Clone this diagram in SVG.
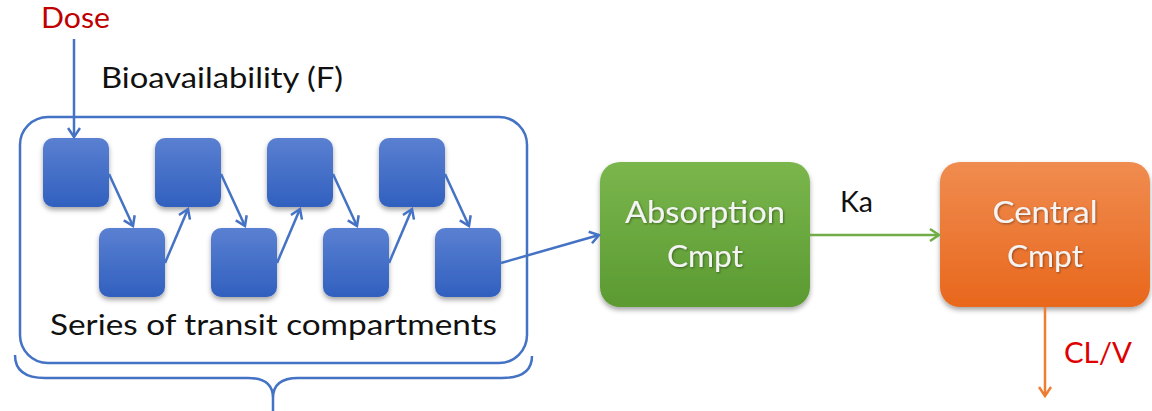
<svg xmlns="http://www.w3.org/2000/svg" width="1152" height="411" viewBox="0 0 1152 411">
  <style>
    .lbl { font-family: Lato, "Open Sans", "Liberation Sans", sans-serif; font-size: 28px; }
    .dark { fill: #111111; }
    .red { fill: #c00000; }
    .inbox { fill: #f4f4f4; text-anchor: middle; font-size: 30px; }
    .blue { stroke: #4472c4; stroke-width: 2.5; fill: none; }
  </style>
  <defs>
    <linearGradient id="gBlue" x1="0" y1="0" x2="0" y2="1">
      <stop offset="0" stop-color="#5a80d1"/>
      <stop offset="1" stop-color="#3160bf"/>
    </linearGradient>
    <linearGradient id="gGreen" x1="0" y1="0" x2="0" y2="1">
      <stop offset="0" stop-color="#7ab64c"/>
      <stop offset="1" stop-color="#5b9a32"/>
    </linearGradient>
    <linearGradient id="gOrange" x1="0" y1="0" x2="0" y2="1">
      <stop offset="0" stop-color="#f08c50"/>
      <stop offset="1" stop-color="#e8671c"/>
    </linearGradient>
    <filter id="shadow" x="-20%" y="-20%" width="140%" height="150%">
      <feDropShadow dx="0" dy="3" stdDeviation="2.5" flood-color="#000" flood-opacity="0.35"/>
    </filter>
    <filter id="txtShadow" x="-10%" y="-20%" width="120%" height="150%">
      <feDropShadow dx="1" dy="1" stdDeviation="0.8" flood-color="#000" flood-opacity="0.4"/>
    </filter>
    <marker id="arrBlue" markerWidth="14" markerHeight="14" refX="11" refY="7" orient="auto" markerUnits="userSpaceOnUse">
      <polyline points="2,1 11,7 2,13" fill="none" stroke="#4472c4" stroke-width="2.5"/>
    </marker>
    <marker id="arrGreen" markerWidth="14" markerHeight="14" refX="11" refY="7" orient="auto" markerUnits="userSpaceOnUse">
      <polyline points="2,1 11,7 2,13" fill="none" stroke="#70ad47" stroke-width="2.5"/>
    </marker>
    <marker id="arrOrange" markerWidth="14" markerHeight="14" refX="11" refY="7" orient="auto" markerUnits="userSpaceOnUse">
      <polyline points="2,1 11,7 2,13" fill="none" stroke="#ed7d31" stroke-width="2.5"/>
    </marker>
  </defs>

  <rect width="1152" height="411" fill="#ffffff"/>

  <!-- free labels -->
  <text id="dose" class="lbl red" x="41" y="28" textLength="69" lengthAdjust="spacingAndGlyphs">Dose</text>
  <text id="bioavailability" class="lbl dark" x="101" y="88" textLength="242" lengthAdjust="spacingAndGlyphs">Bioavailability (F)</text>

  <!-- transit compartment container -->
  <g id="transit-group">
    <rect x="20" y="117" width="507" height="246" rx="28" ry="28" class="blue" stroke-width="3"/>
    <text class="lbl dark" x="50" y="335" textLength="447" lengthAdjust="spacingAndGlyphs">Series of transit compartments</text>
  </g>

  <!-- brace under the container -->
  <path id="brace" class="blue" d="M15,355 Q15,378 45,378 L248,378 Q273,378 273,398 L273,411 M273,398 Q273,378 298,378 L502,378 Q532,378 532,356"/>

  <!-- transit compartments: top row -->
  <g id="t1"><rect x="43" y="138" width="66" height="69" rx="10" fill="url(#gBlue)" filter="url(#shadow)"/></g>
  <g id="t3"><rect x="155" y="138" width="66" height="69" rx="10" fill="url(#gBlue)" filter="url(#shadow)"/></g>
  <g id="t5"><rect x="267" y="138" width="66" height="69" rx="10" fill="url(#gBlue)" filter="url(#shadow)"/></g>
  <g id="t7"><rect x="379" y="138" width="66" height="69" rx="10" fill="url(#gBlue)" filter="url(#shadow)"/></g>
  <!-- transit compartments: bottom row -->
  <g id="t2"><rect x="99" y="228" width="66" height="69" rx="10" fill="url(#gBlue)" filter="url(#shadow)"/></g>
  <g id="t4"><rect x="211" y="228" width="66" height="69" rx="10" fill="url(#gBlue)" filter="url(#shadow)"/></g>
  <g id="t6"><rect x="323" y="228" width="66" height="69" rx="10" fill="url(#gBlue)" filter="url(#shadow)"/></g>
  <g id="t8"><rect x="435" y="228" width="66" height="69" rx="10" fill="url(#gBlue)" filter="url(#shadow)"/></g>

  <!-- absorption compartment -->
  <g id="absorption">
    <rect x="600" y="162" width="210" height="145" rx="20" fill="url(#gGreen)" filter="url(#shadow)"/>
    <g filter="url(#txtShadow)">
      <text class="lbl inbox" x="705" y="223" textLength="160" lengthAdjust="spacingAndGlyphs">Absorption</text>
      <text class="lbl inbox" x="705" y="267" textLength="76" lengthAdjust="spacingAndGlyphs">Cmpt</text>
    </g>
  </g>

  <!-- central compartment -->
  <g id="central">
    <rect x="940" y="162" width="210" height="145" rx="20" fill="url(#gOrange)" filter="url(#shadow)"/>
    <g filter="url(#txtShadow)">
      <text class="lbl inbox" x="1045" y="223" textLength="105" lengthAdjust="spacingAndGlyphs">Central</text>
      <text class="lbl inbox" x="1045" y="267" textLength="76" lengthAdjust="spacingAndGlyphs">Cmpt</text>
    </g>
  </g>

  <!-- connectors -->
  <g id="connectors">
    <line x1="74" y1="39" x2="74" y2="137" class="blue" marker-end="url(#arrBlue)"/>
    <line x1="109" y1="174" x2="133" y2="226" class="blue" marker-end="url(#arrBlue)"/>
    <line x1="165" y1="263" x2="188" y2="209" class="blue" marker-end="url(#arrBlue)"/>
    <line x1="221" y1="174" x2="245" y2="226" class="blue" marker-end="url(#arrBlue)"/>
    <line x1="277" y1="263" x2="300" y2="209" class="blue" marker-end="url(#arrBlue)"/>
    <line x1="333" y1="174" x2="357" y2="226" class="blue" marker-end="url(#arrBlue)"/>
    <line x1="389" y1="263" x2="412" y2="209" class="blue" marker-end="url(#arrBlue)"/>
    <line x1="445" y1="174" x2="469" y2="226" class="blue" marker-end="url(#arrBlue)"/>
    <line x1="501" y1="263" x2="599" y2="235" class="blue" marker-end="url(#arrBlue)"/>
    <line x1="810" y1="235" x2="939" y2="235" stroke="#70ad47" stroke-width="2.5" marker-end="url(#arrGreen)"/>
    <line x1="1045" y1="307" x2="1045" y2="396" stroke="#ed7d31" stroke-width="2.5" marker-end="url(#arrOrange)"/>
    <text class="lbl dark" x="840" y="212" textLength="33" lengthAdjust="spacingAndGlyphs">Ka</text>
    <text class="lbl" x="1064" y="363" fill="#e00000" textLength="68" lengthAdjust="spacingAndGlyphs">CL/V</text>
  </g>
</svg>
